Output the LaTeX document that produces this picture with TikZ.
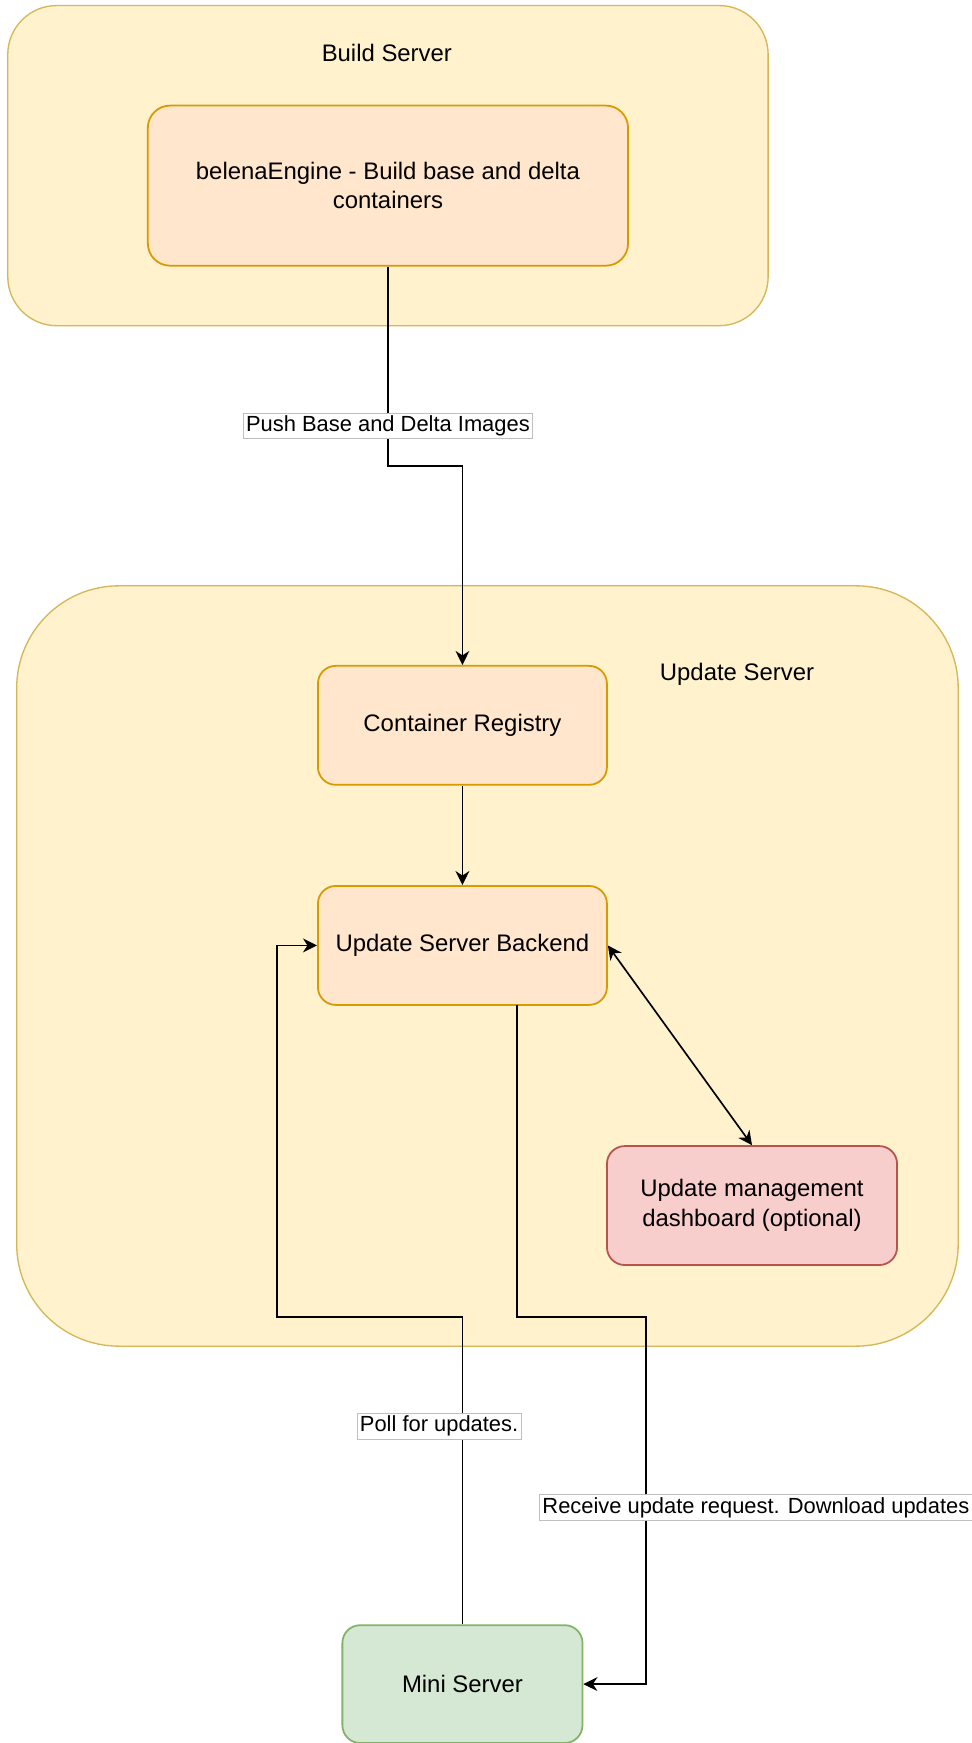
\documentclass[tikz,border=0pt]{standalone}
\usepackage{fontspec}
\setmainfont{Liberation Sans}
\usetikzlibrary{arrows.meta}
\definecolor{ylwFill}{HTML}{FFF2CC}
\definecolor{ylwLine}{HTML}{D6B656}
\definecolor{orgFill}{HTML}{FFE6CC}
\definecolor{orgLine}{HTML}{D79B00}
\definecolor{redFill}{HTML}{F8CECC}
\definecolor{redLine}{HTML}{B85450}
\definecolor{grnFill}{HTML}{D5E8D4}
\definecolor{grnLine}{HTML}{82B366}
\tikzset{
  boxtext/.style={font=\fontsize{10.75pt}{13.3pt}\selectfont, align=center},
  group/.style={draw=ylwLine, fill=ylwFill, line width=0.6pt, inner sep=0pt},
  orangebox/.style={draw=orgLine, fill=orgFill, line width=0.8pt, rounded corners=8pt,
    minimum width=130pt, minimum height=53.5pt, inner sep=0pt, boxtext},
  redbox/.style={draw=redLine, fill=redFill, line width=0.8pt, rounded corners=8pt,
    minimum width=130.5pt, minimum height=53.5pt, inner sep=0pt, boxtext},
  greenbox/.style={draw=grnLine, fill=grnFill, line width=0.8pt, rounded corners=8pt,
    minimum width=108pt, minimum height=53pt, inner sep=0pt, boxtext},
  edgelabel/.style={fill=white, draw=black!25, line width=0.3pt, inner sep=1.2pt,
    font=\fontsize{9.85pt}{11.8pt}\selectfont},
  conn/.style={draw=black, line width=0.75pt},
  tip/.style={-{Stealth[length=6.3pt,width=6.2pt,inset=2pt]}},
  bothtips/.style={{Stealth[length=6.3pt,width=6.2pt,inset=2pt]}-{Stealth[length=6.3pt,width=6.2pt,inset=2pt]}}
}
\begin{document}
\begin{tikzpicture}[x=0.5pt,y=-0.5pt]
  \useasboundingbox (0,0) rectangle (874,1568);

  % Build server group
  \node[group, rounded corners=22pt, minimum width=342pt, minimum height=144pt] (build) at (349,149) {};
  \node[boxtext] (buildtitle) at (348,48) {Build Server};
  \node[orangebox, minimum width=216pt, minimum height=72pt, rounded corners=10pt] (engine) at (349,167)
    {belenaEngine - Build base and delta\\containers};

  % Update server group
  \node[group, rounded corners=46pt, minimum width=423.5pt, minimum height=342pt] (update) at (438.5,869) {};
  \node[boxtext] (updatetitle) at (663,607) {Update Server};
  \node[orangebox] (registry) at (416,652.5) {Container Registry};
  \node[orangebox] (backend) at (416,850.5) {Update Server Backend};
  \node[redbox] (dashboard) at (676.5,1084.5) {Update management\\dashboard (optional)};

  % Device
  \node[greenbox] (mini) at (416,1515) {Mini Server};

  % Bend points of the routed connectors
  \coordinate (pushA) at (349,419);
  \coordinate (pushB) at (416,419);
  \coordinate (pollA) at (416,1185);
  \coordinate (pollB) at (249,1185);
  \coordinate (pollC) at (249,850.5);
  \coordinate (recvStart) at (465,904);
  \coordinate (recvA) at (465,1185);
  \coordinate (recvB) at (581,1185);
  \coordinate (recvC) at (581,1515);

  % Connectors
  \draw[conn, tip] (engine.south) -- (pushA) -- (pushB) -- (registry.north);
  \draw[conn, tip] (registry.south) -- (backend.north);
  \draw[conn, bothtips] (backend.east) -- (dashboard.north);
  \draw[conn, tip] (mini.north) -- (pollA) -- (pollB) -- (pollC) -- (backend.west);
  \draw[conn, tip] (recvStart) -- (recvA) -- (recvB) -- (recvC) -- (mini.east);

  % Connector labels
  \node[edgelabel] (pushlabel) at (349,383) {Push Base and Delta Images};
  \node[edgelabel] (polllabel) at (395,1283) {Poll for updates.};
  \node[edgelabel] (recvlabel) at (680,1356) {Receive update request. Download updates};
\end{tikzpicture}
\end{document}
